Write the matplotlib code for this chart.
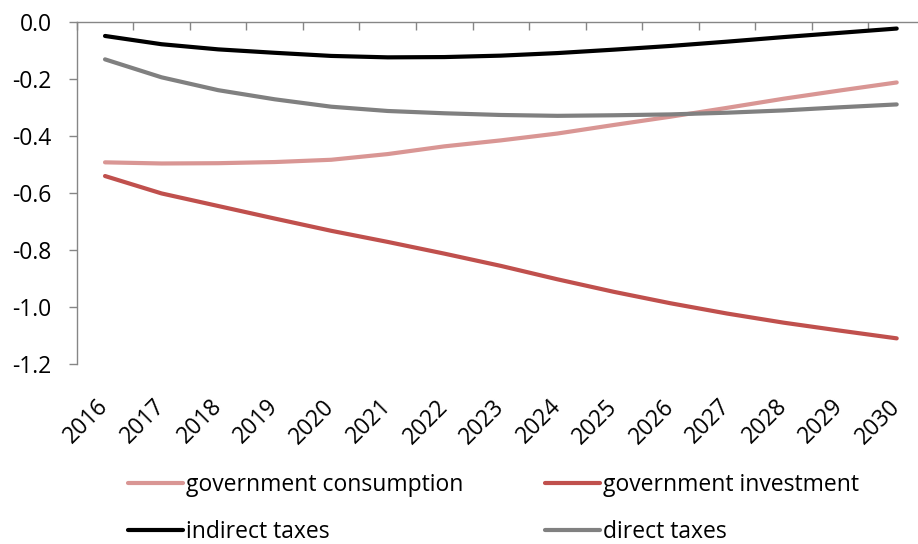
import matplotlib.pyplot as plt
import numpy as np

plt.rcParams['font.family'] = ['Open Sans', 'DejaVu Sans']

years = list(range(2016, 2031))
gov_consumption = [-0.492, -0.496, -0.495, -0.491, -0.483, -0.463, -0.436, -0.415,
                   -0.391, -0.361, -0.332, -0.301, -0.269, -0.240, -0.212]
gov_investment = [-0.540, -0.601, -0.645, -0.689, -0.732, -0.771, -0.812, -0.855,
                  -0.902, -0.946, -0.986, -1.022, -1.054, -1.082, -1.109]
indirect_taxes = [-0.049, -0.078, -0.096, -0.108, -0.119, -0.124, -0.123, -0.118,
                  -0.109, -0.097, -0.084, -0.069, -0.053, -0.038, -0.023]
direct_taxes = [-0.131, -0.194, -0.239, -0.271, -0.297, -0.312, -0.320, -0.326,
                -0.329, -0.327, -0.324, -0.318, -0.310, -0.299, -0.289]
y_ticks = [-1.2, -1.0, -0.8, -0.6, -0.4, -0.2, 0.0]
y_labels = ["-1.2", "-1.0", "-0.8", "-0.6", "-0.4", "-0.2", "0.0"]

fig = plt.figure(figsize=(9.18, 5.44), dpi=100)
ax = fig.add_axes([0.0836, 0.3303, 0.924, 0.6293])

x = np.arange(len(years))
lw = 3.0
l1, = ax.plot(x, gov_consumption, color="#D99694", lw=lw, solid_capstyle="round", label="government consumption")
l2, = ax.plot(x, gov_investment, color="#C0504D", lw=lw, solid_capstyle="round", label="government investment")
l3, = ax.plot(x, indirect_taxes, color="#000000", lw=lw, solid_capstyle="round", label="indirect taxes")
l4, = ax.plot(x, direct_taxes, color="#808080", lw=lw, solid_capstyle="round", label="direct taxes")

ax.set_xlim(-0.5, len(years) - 0.5)
ax.set_ylim(-1.2, 0.0)

axis_col = "#868686"
for s in ["right", "bottom"]:
    ax.spines[s].set_visible(False)
ax.spines["left"].set_color(axis_col)
ax.spines["top"].set_color(axis_col)
ax.spines["left"].set_linewidth(1.0)
ax.spines["top"].set_linewidth(1.0)

fs = 16.5
ax.set_yticks(y_ticks)
ax.set_yticklabels(y_labels)
ax.tick_params(axis="y", direction="out", length=6, width=1.0, color=axis_col,
               pad=12, labelsize=fs)

# category labels below the plot, boundary ticks on the zero line
ax.set_xticks(x)
ax.set_xticklabels([str(y) for y in years], rotation=45, ha="right", va="center",
                   rotation_mode="anchor")
ax.tick_params(axis="x", which="major", length=0, pad=28, labelsize=fs)
ax.set_xticks(np.arange(-0.5, len(years) + 0.5, 1), minor=True)
ax.tick_params(axis="x", which="minor", top=True, bottom=False, direction="in",
               length=6, width=1.0, color=axis_col)

fig.legend([l1, l3, l2, l4], [l.get_label() for l in [l1, l3, l2, l4]],
           ncol=2, loc="upper left", bbox_to_anchor=(128 / 918, 1 - 473 / 544),
           frameon=False, borderpad=0, borderaxespad=0, fontsize=fs,
           handlelength=2.4, handletextpad=0.13, columnspacing=3.55,
           labelspacing=1.0)

fig.savefig("out.png", dpi=100)
